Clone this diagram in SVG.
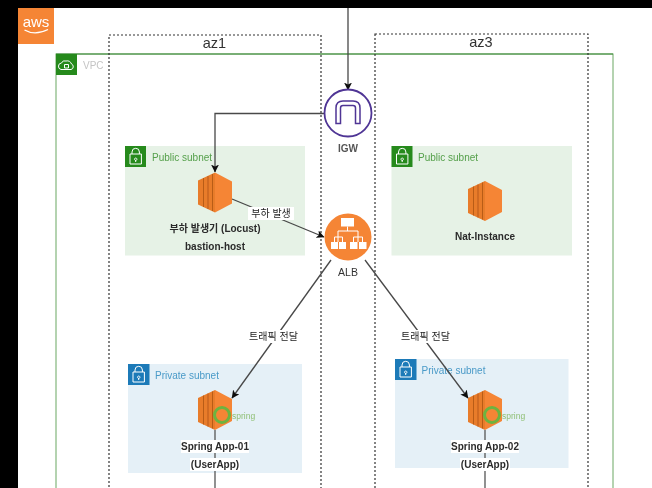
<svg xmlns="http://www.w3.org/2000/svg" width="652" height="488" viewBox="0 0 652 488">
<style>
text{font-family:"Liberation Sans","Noto Sans CJK KR",sans-serif}
.az{fill:none;stroke:#333;stroke-width:1.2;stroke-dasharray:2 2}
.azt{font-size:14.5px;fill:#333;text-anchor:middle}
.lbl{font-size:10px;font-weight:bold;fill:#2b2b2b;text-anchor:middle}
.elbl{font-size:10px;fill:#222;text-anchor:middle}
.cap{font-size:10px;fill:#555;font-weight:bold;text-anchor:middle}
.pub{fill:#e6f2e6}.priv{fill:#e5f0f7}
.gt{font-size:10px;fill:#55a04b}.bt{font-size:10px;fill:#4a9ac8}
.g{fill:#258a1f}.b{fill:#1a7ab8}
.ic{fill:none;stroke:#fff;stroke-width:1}
.conn{fill:none;stroke:#484848;stroke-width:1.3;marker-end:url(#arr)}
.plain{fill:none;stroke:#555;stroke-width:1.3}
.wb{fill:#fff}
</style>
<defs>
<marker id="arr" markerWidth="9" markerHeight="8" refX="7.500" refY="4" orient="auto" markerUnits="userSpaceOnUse"><path d="M0 0L8 4L0 8L2 4Z" fill="#111"/></marker>
<filter id="soft" x="0" y="0" width="1" height="1"><feGaussianBlur stdDeviation="0.45"/></filter>
<g id="ec2">
<path d="M0 8L17 0V40L0 32Z" fill="#e87b2a"/>
<path d="M5.500 5.500V34.500M10 3.500V36.500M14.500 1.500V38.500" fill="none" stroke="#b85c18" stroke-width="1"/>
<path d="M17 0L34 9V31L17 40Z" fill="#f58534"/>
</g>
<g id="lock"><path class="ic" d="M7 8V6A3.700 3.700 0 0 1 14.400 6V8M5 8H16.400V18H5ZM10.700 12A1.200 1.200 0 1 0 10.701 12ZM10.700 14V16"/></g>
<g id="spring"><circle cx="24" cy="25" r="7.500" fill="none" stroke="#6db33f" stroke-width="3"/><text x="34" y="28.500" font-size="8.500" fill="#8fbf75">spring</text></g>
</defs>
<g filter="url(#soft)">
<rect width="652" height="488" fill="#000"/>
<rect x="18" y="8" width="634" height="480" fill="#fff"/>
<g id="aws"><rect x="18" y="8" width="36" height="36" fill="#f58536"/><text x="36" y="27" font-size="15" fill="#fff" text-anchor="middle">aws</text><path d="M24.500 30Q35 36 48 29.500" fill="none" stroke="#fff" stroke-width="1.300"/></g>
<g id="vpc"><rect x="56" y="54" width="557" height="450" fill="#fff" stroke="#6aa763" stroke-width="1"/><path d="M56 54H613" stroke="#3f8a38" stroke-width="1"/><rect x="56" y="54" width="21" height="21" class="g"/><path class="ic" d="M61 69.500A3.300 3.300 0 0 1 61.500 63A3.600 3.600 0 0 1 66 61A4.800 4.800 0 0 1 71.500 64A2.900 2.900 0 0 1 71 69.500ZM64.500 64.500H68.500V68H64.500Z"/><text x="83" y="69" font-size="10" fill="#c4c4c4">VPC</text></g>
<g id="public-subnet-1"><rect x="125" y="146" width="180" height="109.500" class="pub"/><rect x="125" y="146" width="21" height="21" class="g"/><use href="#lock" x="125" y="146"/><text x="152" y="161" class="gt">Public subnet</text></g>
<g id="public-subnet-3"><rect x="391.500" y="146" width="180.500" height="109.500" class="pub"/><rect x="391.500" y="146" width="21" height="21" class="g"/><use href="#lock" x="391.500" y="146"/><text x="418" y="161" class="gt">Public subnet</text></g>
<g id="private-subnet-1"><rect x="128" y="364" width="174" height="109" class="priv"/><rect x="128" y="364" width="21.500" height="21" class="b"/><use href="#lock" x="128" y="364"/><text x="155" y="379" class="bt">Private subnet</text></g>
<g id="private-subnet-2"><rect x="395" y="359" width="173.500" height="109" class="priv"/><rect x="395" y="359" width="21.500" height="21" class="b"/><use href="#lock" x="395" y="359"/><text x="421.500" y="374" class="bt">Private subnet</text></g>
<g id="az1"><rect x="109" y="35" width="212" height="470" class="az"/><text x="214.500" y="47.500" class="azt">az1</text></g>
<g id="az3"><rect x="375" y="34" width="213" height="470" class="az"/><text x="481" y="47" class="azt">az3</text></g>
<g id="connectors">
<path class="conn" d="M348 8V90"/>
<path class="conn" d="M324 113.500H215V172"/>
<path class="conn" d="M232 199L324 237"/>
<path class="conn" d="M331 260L232 398"/>
<path class="conn" d="M365 260L468 398"/>
<path class="plain" d="M215 430V488"/>
<path class="plain" d="M485 430V488"/>
</g>
<g id="igw"><circle cx="348" cy="113" r="23.500" fill="#fff" stroke="#4f3595" stroke-width="1.800"/><path d="M336 123.500V108Q336 101 343 101H353Q360 101 360 108V123.500H355.500V108Q355.500 105.500 353 105.500H343Q340.500 105.500 340.500 108V123.500Z" fill="none" stroke="#4f3595" stroke-width="1.500"/><text x="348" y="152" class="cap">IGW</text></g>
<g id="alb"><circle cx="348" cy="237" r="23.500" fill="#f58536"/><g fill="#fff"><rect x="341" y="218" width="13" height="8.500"/><rect x="331" y="242" width="7" height="7"/><rect x="339" y="242" width="7" height="7"/><rect x="350" y="242" width="7.500" height="7"/><rect x="359" y="242" width="7.500" height="7"/></g><path d="M347.500 226.500V231M338 242V231H358V242M334.500 242V237H342.500V242M353.500 242V237H362.500V242" fill="none" stroke="#fff"/><text x="348" y="276" font-size="10.500" fill="#333" text-anchor="middle">ALB</text></g>
<g id="locust"><use href="#ec2" x="198" y="172.500"/><text x="215" y="232" class="lbl">부하 발생기 (Locust)</text><text x="215" y="250" class="lbl">bastion-host</text></g>
<g id="nat"><use href="#ec2" x="468" y="181"/><text x="485" y="240" class="lbl">Nat-Instance</text></g>
<g id="spring-app-01"><use href="#ec2" x="198" y="390"/><use href="#spring" x="198" y="390"/><rect x="181" y="440" width="68" height="13" class="wb"/><rect x="190" y="458" width="50" height="13" class="wb"/><text x="215" y="450" class="lbl">Spring App-01</text><text x="215" y="468" class="lbl">(UserApp)</text></g>
<g id="spring-app-02"><use href="#ec2" x="468" y="390"/><use href="#spring" x="468" y="390"/><rect x="451" y="440" width="68" height="13" class="wb"/><rect x="460" y="458" width="50" height="13" class="wb"/><text x="485" y="450" class="lbl">Spring App-02</text><text x="485" y="468" class="lbl">(UserApp)</text></g>
<g id="edge-labels">
<rect x="248" y="207" width="46" height="13" class="wb"/><text x="271" y="217" class="elbl">부하 발생</text>
<rect x="245" y="330" width="57" height="13" class="wb"/><text x="273.500" y="340" class="elbl">트래픽 전달</text>
<rect x="397" y="330" width="57" height="13" class="wb"/><text x="425.500" y="340" class="elbl">트래픽 전달</text>
</g>
</g>
</svg>
